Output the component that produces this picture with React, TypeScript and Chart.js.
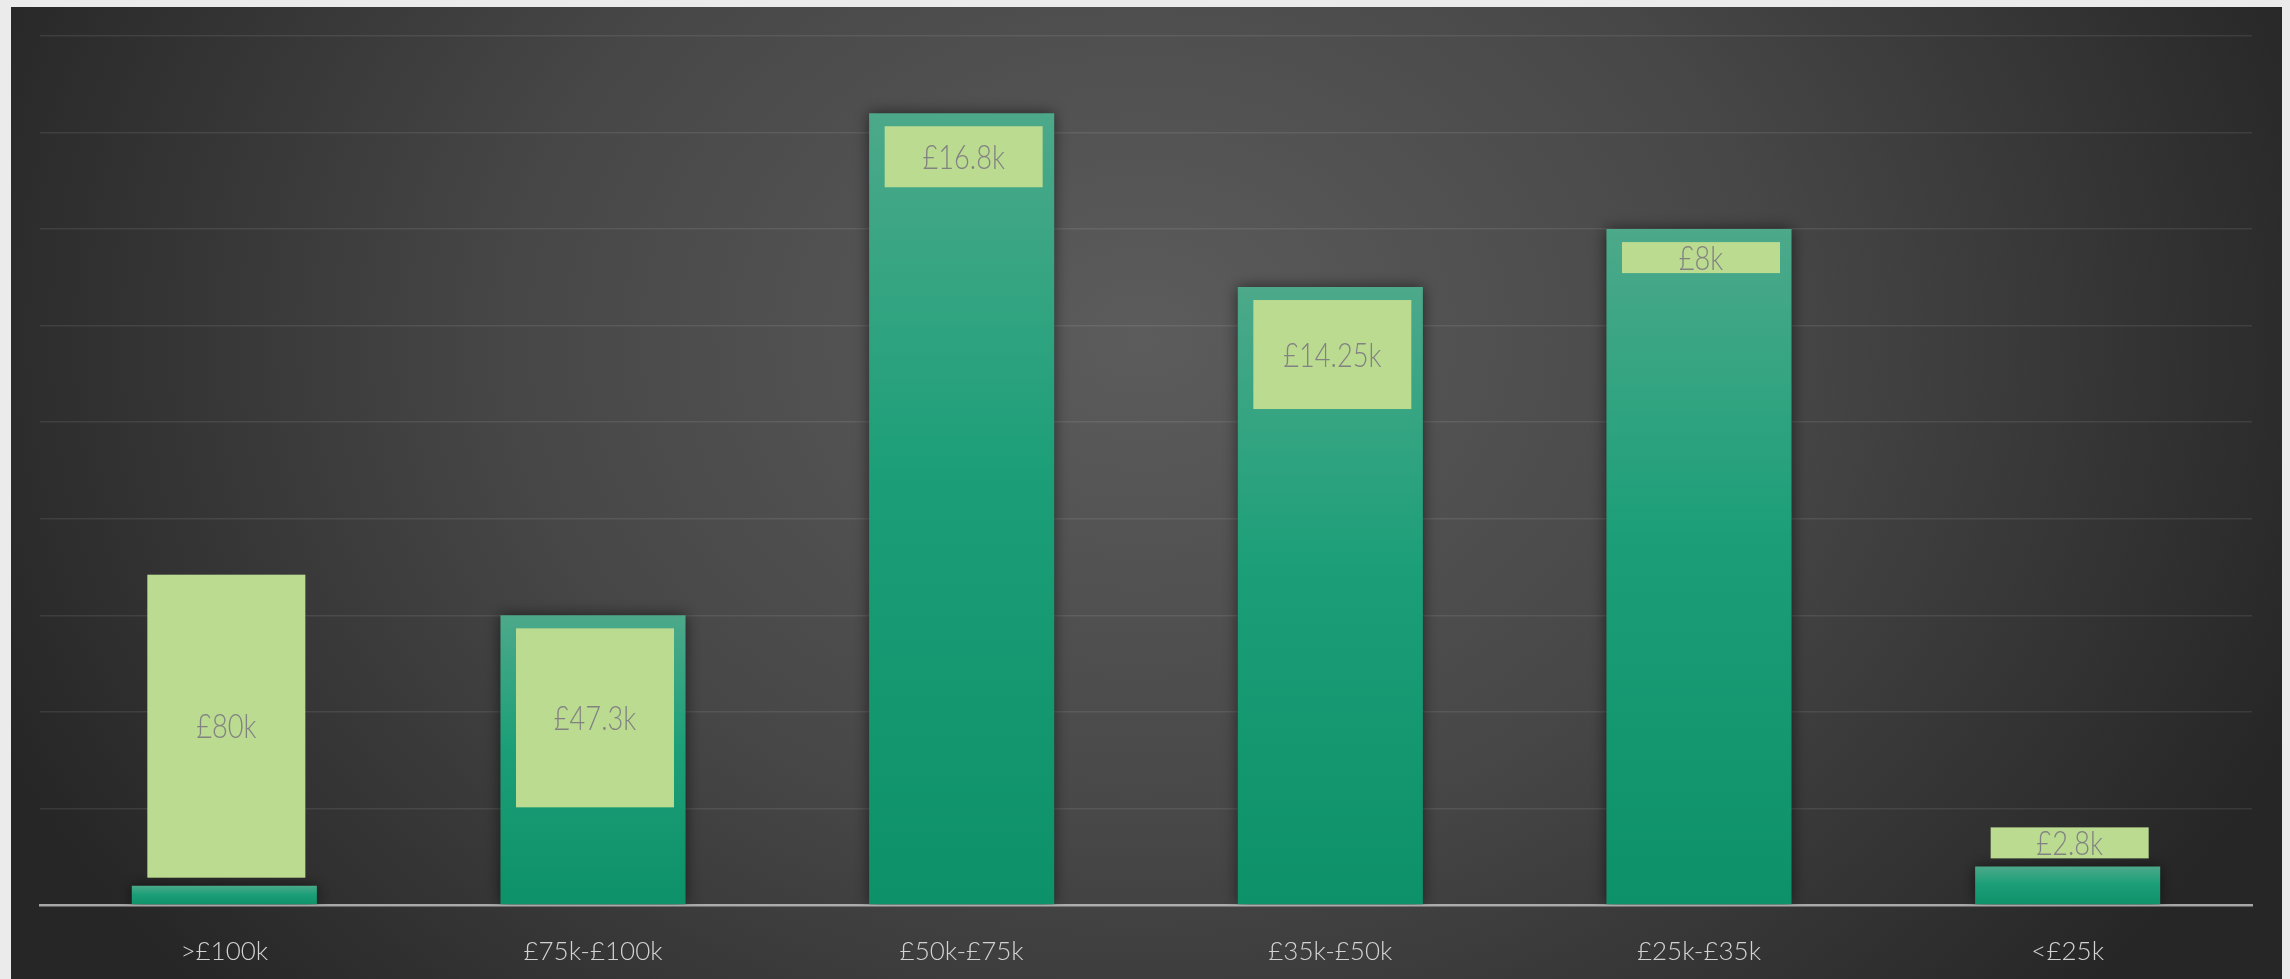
import React, { useEffect, useRef } from "react";
import { Chart, registerables } from "chart.js";

Chart.register(...registerables);

// ---- data ----
const categories = [">£100k", "£75k-£100k", "£50k-£75k", "£35k-£50k", "£25k-£35k", "<£25k"];
const values = [0.2, 3, 8.2, 6.4, 7, 0.4];
const valueLabels = ["£80k", "£47.3k", "£16.8k", "£14.25k", "£8k", "£2.8k"];
const yMax = 9;
const yStep = 1;

// ---- label box styling (sizes / placement, not data) ----
const labelBoxHeights = [303, 179, 61, 109, 31, 31];
const labelInside = [false, true, true, true, true, false];
const LABEL_BOX_WIDTH = 158;
const INSIDE_GAP = 13;
const OUTSIDE_GAP = 8;

const W = 2271;
const H = 972;

const bgPlugin = {
  id: "panelBg",
  beforeDraw(chart: any) {
    const { ctx, width, height } = chart;
    const cx = 1130;
    const cy = 330;
    const rx = 1250;
    const ry = 1000;
    ctx.save();
    ctx.translate(cx, cy);
    ctx.scale(1, ry / rx);
    const g = ctx.createRadialGradient(0, 0, 0, 0, 0, rx);
    g.addColorStop(0, "#5c5c5c");
    g.addColorStop(0.5, "#474747");
    g.addColorStop(1, "#262626");
    ctx.fillStyle = g;
    ctx.fillRect(-cx - 10, (-cy - 10) * (rx / ry), width + 20, (height + 20) * (rx / ry));
    ctx.restore();
  },
};

const barDecorPlugin = {
  id: "barDecor",
  beforeDatasetsDraw(chart: any) {
    const ctx = chart.ctx;
    ctx.save();
    ctx.shadowColor = "rgba(0,0,0,0.55)";
    ctx.shadowBlur = 14;
    ctx.shadowOffsetX = 0;
    ctx.shadowOffsetY = 0;
  },
  afterDatasetsDraw(chart: any) {
    const ctx = chart.ctx;
    ctx.restore();
    const meta = chart.getDatasetMeta(0);
    meta.data.forEach((el: any, i: number) => {
      const h = labelBoxHeights[i];
      const x0 = el.x - LABEL_BOX_WIDTH / 2 + 2;
      const top = labelInside[i] ? el.y + INSIDE_GAP : el.y - OUTSIDE_GAP - h;
      ctx.save();
      ctx.fillStyle = "#bbdb91";
      ctx.fillRect(x0, top, LABEL_BOX_WIDTH, h);
      ctx.fillStyle = "#828282";
      ctx.font = "300 34px Lato, 'Open Sans', sans-serif";
      ctx.textAlign = "center";
      ctx.textBaseline = "middle";
      ctx.translate(x0 + LABEL_BOX_WIDTH / 2, top + h / 2 + 1);
      ctx.scale(0.8, 1);
      ctx.fillText(valueLabels[i], 0, 0);
      ctx.restore();
    });
  },
};

function barGradient(context: any) {
  const chart = context.chart;
  const y = chart.scales?.y;
  if (!y || context.dataIndex === undefined) return "#139c76";
  const v = values[context.dataIndex];
  const top = y.getPixelForValue(v);
  const base = y.getPixelForValue(0);
  if (!isFinite(top) || !isFinite(base) || base - top < 1) return "#139c76";
  const g = chart.ctx.createLinearGradient(0, top, 0, base);
  g.addColorStop(0, "#4ca98a");
  g.addColorStop(0.45, "#1c9f78");
  g.addColorStop(1, "#0d9168");
  return g;
}

export default function App() {
  const ref = useRef<HTMLCanvasElement | null>(null);

  useEffect(() => {
    document.body.style.margin = "0";
    document.body.style.background = "#ebebeb";
    document.body.style.overflow = "hidden";
    if (!ref.current) return;
    const chart = new Chart(ref.current, {
      type: "bar",
      data: {
        labels: categories,
        datasets: [
          {
            data: values,
            backgroundColor: barGradient,
            borderWidth: 0,
            categoryPercentage: 1,
            barPercentage: 0.502,
          },
        ],
      },
      options: {
        responsive: false,
        animation: false,
        events: [],
        layout: { padding: { left: 29, right: 30, top: 29, bottom: 0 } },
        plugins: {
          legend: { display: false },
          tooltip: { enabled: false },
          title: { display: false },
        },
        scales: {
          x: {
            z: 1,
            grid: { display: false, drawTicks: false },
            border: { display: true, color: "rgba(205,205,205,0.75)", width: 2.5 },
            ticks: {
              color: "#d2d2d2",
              padding: 31,
              font: { family: "Lato, 'Open Sans', sans-serif", weight: "300", size: 26 },
            },
            afterFit(scale: any) {
              scale.height = 74;
            },
          },
          y: {
            min: 0,
            max: yMax,
            ticks: { display: false, stepSize: yStep },
            grid: { color: "rgba(255,255,255,0.085)", lineWidth: 1.5, drawTicks: false },
            border: { display: false },
            afterFit(scale: any) {
              scale.width = 0;
            },
          },
        },
      },
      plugins: [bgPlugin, barDecorPlugin],
    });
    if ((document as any).fonts && (document as any).fonts.load) {
      Promise.all([
        (document as any).fonts.load("300 34px Lato"),
        (document as any).fonts.load("300 26px Lato"),
      ])
        .then(() => chart.update())
        .catch(() => {});
    }
    return () => chart.destroy();
  }, []);

  return (
    <div style={{ position: "absolute", left: 11, top: 7, width: W, height: H }}>
      <canvas ref={ref} width={W} height={H} style={{ display: "block", width: W, height: H }} />
    </div>
  );
}
